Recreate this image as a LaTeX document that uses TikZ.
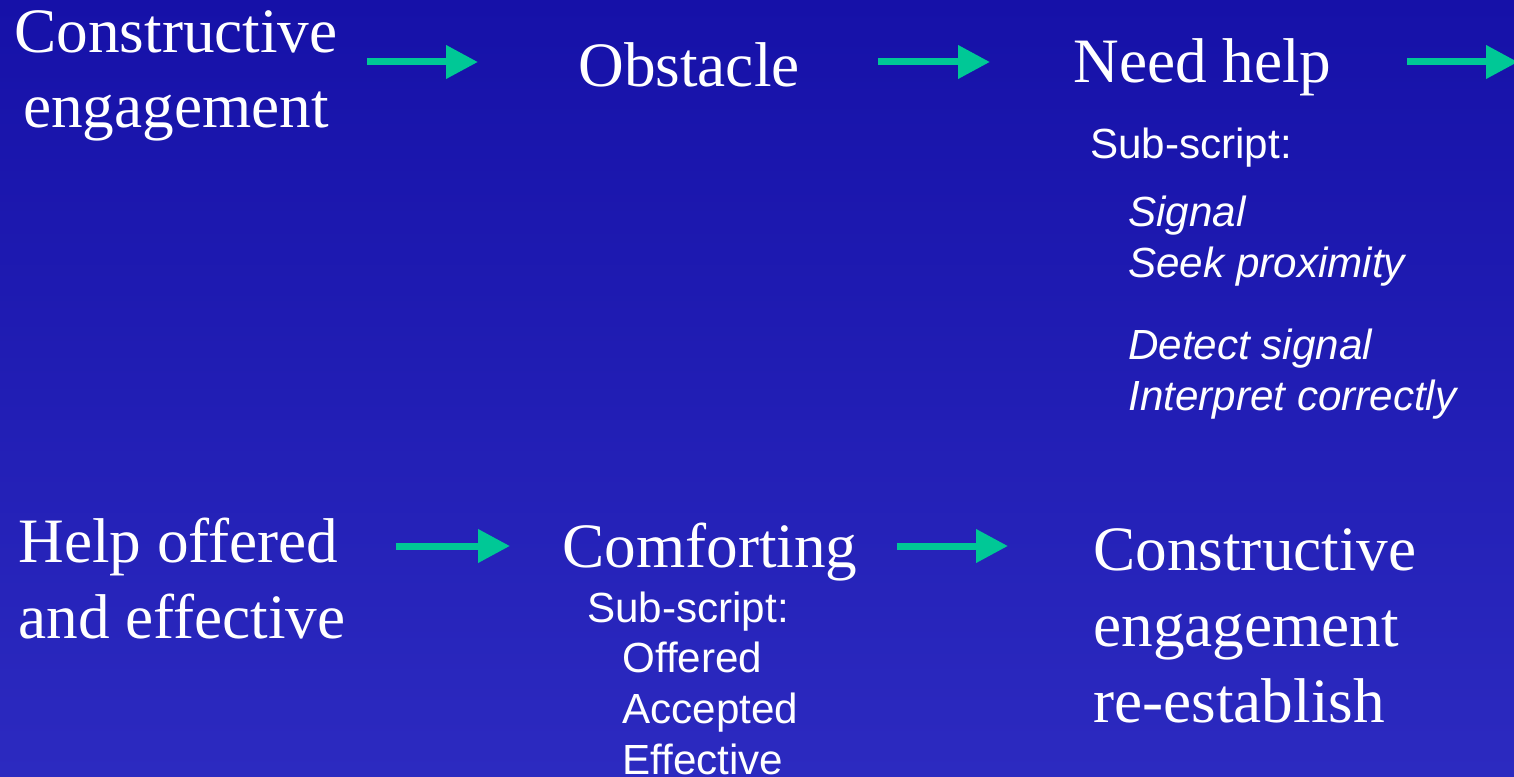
\documentclass[tikz,border=0pt]{standalone}
\usepackage{fontspec}
\setmainfont{Liberation Serif}
\setsansfont{Liberation Sans}
\usepackage{xcolor}
\usepackage{tikz}
\usetikzlibrary{arrows.meta,positioning,calc}
\definecolor{bgtop}{RGB}{22,17,168}
\definecolor{bgbot}{RGB}{44,42,192}
\definecolor{arrgreen}{RGB}{0,200,150}
\tikzset{
  big/.style={inner sep=0pt, text=white, font=\fontsize{36}{43}\selectfont},
  sub/.style={inner sep=0pt, text=white, align=left, font=\fontsize{24}{29}\sffamily},
  subit/.style={sub, font=\fontsize{24}{29}\sffamily\itshape},
  arr/.style={-{Triangle[length=0.64cm, width=0.64cm]}, line width=0.14cm, draw=arrgreen, fill=arrgreen}
}
\begin{document}
\begin{tikzpicture}[x=0.02cm, y=-0.02cm]
  \useasboundingbox (0,0) rectangle (1514,777);
  \shade[top color=bgtop, bottom color=bgbot] (0,0) rectangle (1514,777);
  \coordinate (row1) at (0,62);
  \coordinate (row2) at (0,546);
  % top row (multi-line nodes sit on their last line)
  \node[big, align=center, anchor=base] (ce) at (176,128) {Constructive\\engagement};
  \node[big, anchor=base west] (obst) at (578,87) {Obstacle};
  \node[big, anchor=base west] (need) at (1073,83) {Need help};
  \coordinate (out) at (1518,62);
  \node[sub, anchor=base west] (nsub) at (1090,158) {Sub-script:};
  \node[subit, anchor=base west] (sig) at (1128,277) {Signal\\Seek proximity};
  \node[subit, anchor=base west] (det) at (1128,410) {Detect signal\\Interpret correctly};
  % bottom row
  \node[big, align=left, anchor=base west] (help) at (18,638) {Help offered\\and effective};
  \node[big, anchor=base west] (comf) at (562,567) {Comforting};
  \node[sub, anchor=base west] (csub) at (587,622) {Sub-script:};
  \node[sub, anchor=base west] (cl) at (622,774) {Offered\\Accepted\\Effective};
  \node[big, align=left, anchor=base west] (ce2) at (1093,722) {Constructive\\engagement\\re-establish};
  % arrows
  \draw[arr] ([xshift=0.58cm]ce.east |- row1) -- ([xshift=-2cm]obst.west |- row1);
  \draw[arr] ([xshift=1.56cm]obst.east |- row1) -- ([xshift=-1.66cm]need.west |- row1);
  \draw[arr] ([xshift=1.5cm]need.east |- row1) -- (out);
  \draw[arr] ([xshift=1cm]help.east |- row2) -- ([xshift=-1.04cm]comf.west |- row2);
  \draw[arr] ([xshift=0.78cm]comf.east |- row2) -- ([xshift=-1.7cm]ce2.west |- row2);
\end{tikzpicture}
\end{document}
